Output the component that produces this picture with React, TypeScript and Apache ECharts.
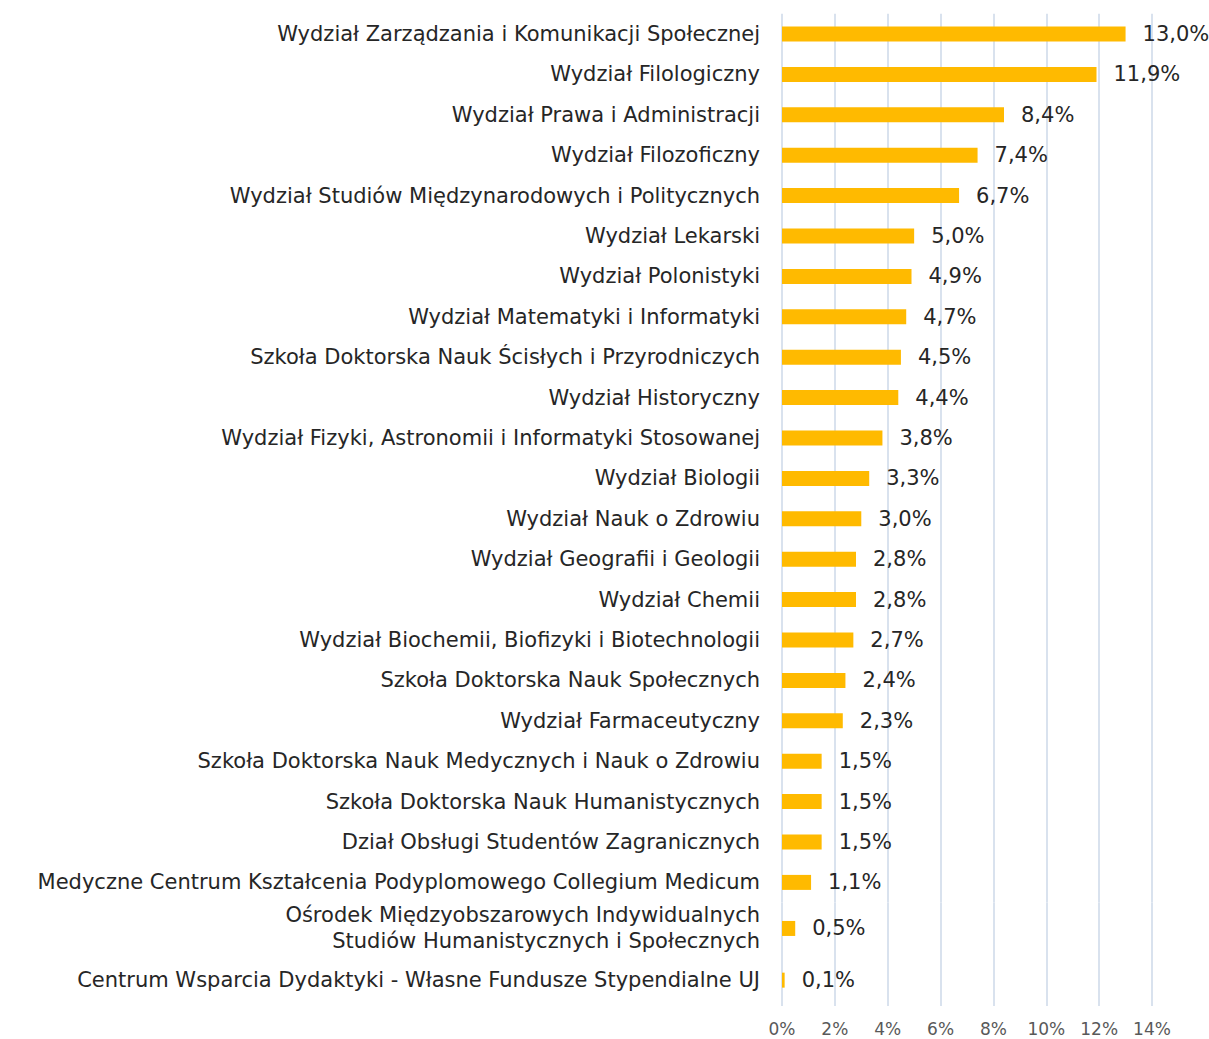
import React, { useEffect, useRef } from "react";
import * as echarts from "echarts";

const categories = [
  "Wydział Zarządzania i Komunikacji Społecznej",
  "Wydział Filologiczny",
  "Wydział Prawa i Administracji",
  "Wydział Filozoficzny",
  "Wydział Studiów Międzynarodowych i Politycznych",
  "Wydział Lekarski",
  "Wydział Polonistyki",
  "Wydział Matematyki i Informatyki",
  "Szkoła Doktorska Nauk Ścisłych i Przyrodniczych",
  "Wydział Historyczny",
  "Wydział Fizyki, Astronomii i Informatyki Stosowanej",
  "Wydział Biologii",
  "Wydział Nauk o Zdrowiu",
  "Wydział Geografii i Geologii",
  "Wydział Chemii",
  "Wydział Biochemii, Biofizyki i Biotechnologii",
  "Szkoła Doktorska Nauk Społecznych",
  "Wydział Farmaceutyczny",
  "Szkoła Doktorska Nauk Medycznych i Nauk o Zdrowiu",
  "Szkoła Doktorska Nauk Humanistycznych",
  "Dział Obsługi Studentów Zagranicznych",
  "Medyczne Centrum Kształcenia Podyplomowego Collegium Medicum",
  "Ośrodek Międzyobszarowych Indywidualnych\nStudiów Humanistycznych i Społecznych",
  "Centrum Wsparcia Dydaktyki - Własne Fundusze Stypendialne UJ",
];

const values = [13.0, 11.9, 8.4, 7.4, 6.7, 5.0, 4.9, 4.7, 4.5, 4.4, 3.8, 3.3, 3.0, 2.8, 2.8, 2.7, 2.4, 2.3, 1.5, 1.5, 1.5, 1.1, 0.5, 0.1];

const xTicksMax = 14;
const xTickStep = 2;

const FONT = "'DejaVu Sans', 'Open Sans', sans-serif";
const SPLIT = 22; // rows in the upper block; the last rows sit in a taller block

export default function App() {
  const ref = useRef<HTMLDivElement>(null);
  useEffect(() => {
    document.body.style.margin = "0";
    const chart = echarts.init(ref.current!, null, { renderer: "svg" });

    const mkX = (gridIndex: number, showLabels: boolean) => ({
      type: "value",
      gridIndex,
      min: 0,
      max: xTicksMax,
      interval: xTickStep,
      axisLine: { show: false },
      axisTick: { show: false },
      splitLine: { show: true, lineStyle: { color: "#D9E2EE", width: 2 } },
      axisLabel: {
        show: showLabels,
        formatter: (v: number) => v + "%",
        color: "#595959",
        fontSize: 17,
        fontFamily: FONT,
        margin: 14,
      },
    });

    const mkY = (gridIndex: number, data: string[]) => ({
      type: "category",
      gridIndex,
      data,
      inverse: true,
      axisLine: { show: false },
      axisTick: { show: false },
      axisLabel: {
        color: "#262626",
        fontSize: 21,
        fontFamily: FONT,
        margin: 22,
        lineHeight: 26,
        align: "right",
        interval: 0,
      },
    });

    const mkSeries = (idx: number, data: number[]) => ({
      type: "bar",
      xAxisIndex: idx,
      yAxisIndex: idx,
      data,
      barWidth: 15,
      itemStyle: { color: "#FFBA00" },
      label: {
        show: true,
        position: "right",
        distance: 17,
        color: "#262626",
        fontSize: 21,
        fontFamily: FONT,
        formatter: (p: any) => p.value.toFixed(1).replace(".", ",") + "%",
      },
    });

    chart.setOption({
      animation: false,
      textStyle: { fontFamily: FONT },
      grid: [
        { left: 782, right: 57, top: 13.8, height: 888.8, containLabel: false },
        { left: 782, right: 57, top: 902.6, bottom: 33, containLabel: false },
      ],
      xAxis: [mkX(0, false), mkX(1, true)],
      yAxis: [mkY(0, categories.slice(0, SPLIT)), mkY(1, categories.slice(SPLIT))],
      series: [mkSeries(0, values.slice(0, SPLIT)), mkSeries(1, values.slice(SPLIT))],
    });
    return () => chart.dispose();
  }, []);
  return <div ref={ref} style={{ width: 1209, height: 1039 }} />;
}
